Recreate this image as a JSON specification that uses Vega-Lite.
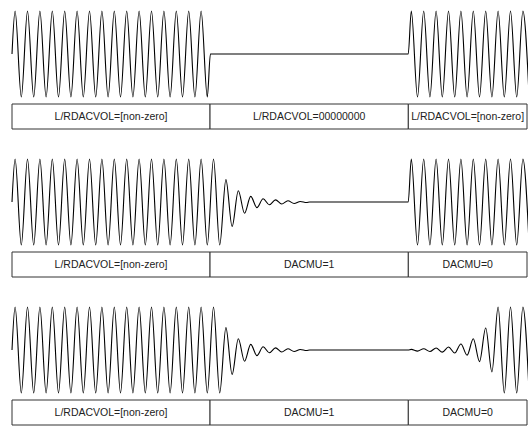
{
"$schema":"https://vega.github.io/schema/vega-lite/v6.json",
"padding":{"left":9,"top":8,"right":0,"bottom":0},
"autosize":{"type":"pad"},
"bounds":"flush",
"spacing":7,
"config":{"view":{"stroke":null},"background":"white"},
"datasets":{
"wave1":[{"t":0,"v":0},{"t":0.25,"v":1},{"t":0.75,"v":-1},{"t":1.25,"v":1},{"t":1.75,"v":-1},{"t":2.25,"v":1},{"t":2.75,"v":-1},{"t":3.25,"v":1},{"t":3.75,"v":-1},{"t":4.25,"v":1},{"t":4.75,"v":-1},{"t":5.25,"v":1},{"t":5.75,"v":-1},{"t":6.25,"v":1},{"t":6.75,"v":-1},{"t":7.25,"v":1},{"t":7.75,"v":-1},{"t":8.25,"v":1},{"t":8.75,"v":-1},{"t":9.25,"v":1},{"t":9.75,"v":-1},{"t":10.25,"v":1},{"t":10.75,"v":-1},{"t":11.25,"v":1},{"t":11.75,"v":-1},{"t":12.25,"v":1},{"t":12.75,"v":-1},{"t":13.25,"v":1},{"t":13.75,"v":-1},{"t":14.25,"v":1},{"t":14.75,"v":-1},{"t":15.25,"v":1},{"t":15.75,"v":-1},{"t":16,"v":0},{"t":31.95,"v":0},{"t":32.2,"v":1},{"t":32.7,"v":-1},{"t":33.2,"v":1},{"t":33.7,"v":-1},{"t":34.2,"v":1},{"t":34.7,"v":-1},{"t":35.2,"v":1},{"t":35.7,"v":-1},{"t":36.2,"v":1},{"t":36.7,"v":-1},{"t":37.2,"v":1},{"t":37.7,"v":-1},{"t":38.2,"v":1},{"t":38.7,"v":-1},{"t":39.2,"v":1},{"t":39.7,"v":-1},{"t":40.2,"v":1},{"t":40.7,"v":-1},{"t":41.2,"v":1},{"t":41.7,"v":-1}],
"wave2":[{"t":0,"v":0},{"t":0.25,"v":1},{"t":0.75,"v":-1},{"t":1.25,"v":1},{"t":1.75,"v":-1},{"t":2.25,"v":1},{"t":2.75,"v":-1},{"t":3.25,"v":1},{"t":3.75,"v":-1},{"t":4.25,"v":1},{"t":4.75,"v":-1},{"t":5.25,"v":1},{"t":5.75,"v":-1},{"t":6.25,"v":1},{"t":6.75,"v":-1},{"t":7.25,"v":1},{"t":7.75,"v":-1},{"t":8.25,"v":1},{"t":8.75,"v":-1},{"t":9.25,"v":1},{"t":9.75,"v":-1},{"t":10.25,"v":1},{"t":10.75,"v":-1},{"t":11.25,"v":1},{"t":11.75,"v":-1},{"t":12.25,"v":1},{"t":12.75,"v":-1},{"t":13.25,"v":1},{"t":13.75,"v":-1},{"t":14.25,"v":1},{"t":14.75,"v":-1},{"t":15.25,"v":1},{"t":15.75,"v":-1},{"t":16.25,"v":1},{"t":16.75,"v":-1},{"t":17.25,"v":0.52},{"t":17.75,"v":-0.57},{"t":18.25,"v":0.26},{"t":18.75,"v":-0.26},{"t":19.25,"v":0.13},{"t":19.75,"v":-0.13},{"t":20.25,"v":0.075},{"t":20.75,"v":-0.065},{"t":21.25,"v":0.05},{"t":21.75,"v":-0.048},{"t":22.25,"v":0.03},{"t":22.75,"v":-0.034},{"t":23.25,"v":0.013},{"t":23.75,"v":-0.012},{"t":24,"v":0},{"t":31.95,"v":0},{"t":32.2,"v":1},{"t":32.7,"v":-1},{"t":33.2,"v":1},{"t":33.7,"v":-1},{"t":34.2,"v":1},{"t":34.7,"v":-1},{"t":35.2,"v":1},{"t":35.7,"v":-1},{"t":36.2,"v":1},{"t":36.7,"v":-1},{"t":37.2,"v":1},{"t":37.7,"v":-1},{"t":38.2,"v":1},{"t":38.7,"v":-1},{"t":39.2,"v":1},{"t":39.7,"v":-1},{"t":40.2,"v":1},{"t":40.7,"v":-1},{"t":41.2,"v":1},{"t":41.7,"v":-1}],
"wave3":[{"t":0,"v":0},{"t":0.25,"v":1},{"t":0.75,"v":-1},{"t":1.25,"v":1},{"t":1.75,"v":-1},{"t":2.25,"v":1},{"t":2.75,"v":-1},{"t":3.25,"v":1},{"t":3.75,"v":-1},{"t":4.25,"v":1},{"t":4.75,"v":-1},{"t":5.25,"v":1},{"t":5.75,"v":-1},{"t":6.25,"v":1},{"t":6.75,"v":-1},{"t":7.25,"v":1},{"t":7.75,"v":-1},{"t":8.25,"v":1},{"t":8.75,"v":-1},{"t":9.25,"v":1},{"t":9.75,"v":-1},{"t":10.25,"v":1},{"t":10.75,"v":-1},{"t":11.25,"v":1},{"t":11.75,"v":-1},{"t":12.25,"v":1},{"t":12.75,"v":-1},{"t":13.25,"v":1},{"t":13.75,"v":-1},{"t":14.25,"v":1},{"t":14.75,"v":-1},{"t":15.25,"v":1},{"t":15.75,"v":-1},{"t":16.25,"v":1},{"t":16.75,"v":-1},{"t":17.25,"v":0.52},{"t":17.75,"v":-0.57},{"t":18.25,"v":0.26},{"t":18.75,"v":-0.26},{"t":19.25,"v":0.13},{"t":19.75,"v":-0.13},{"t":20.25,"v":0.075},{"t":20.75,"v":-0.065},{"t":21.25,"v":0.05},{"t":21.75,"v":-0.048},{"t":22.25,"v":0.03},{"t":22.75,"v":-0.034},{"t":23.25,"v":0.013},{"t":23.75,"v":-0.012},{"t":24,"v":0},{"t":31.95,"v":0},{"t":32.2,"v":0.015},{"t":32.7,"v":-0.025},{"t":33.2,"v":0.03},{"t":33.7,"v":-0.035},{"t":34.2,"v":0.045},{"t":34.7,"v":-0.05},{"t":35.2,"v":0.07},{"t":35.7,"v":-0.07},{"t":36.2,"v":0.14},{"t":36.7,"v":-0.12},{"t":37.2,"v":0.26},{"t":37.7,"v":-0.27},{"t":38.2,"v":0.51},{"t":38.7,"v":-0.51},{"t":39.2,"v":1},{"t":39.7,"v":-1},{"t":40.2,"v":1},{"t":40.7,"v":-1},{"t":41.2,"v":1},{"t":41.7,"v":-1}],
"cells":[
{"p":1,"x0":0,"x1":15.97,"m":7.985,"label":"L/RDACVOL=[non-zero]"},
{"p":1,"x0":15.97,"x1":31.96,"m":23.965,"label":"L/RDACVOL=00000000"},
{"p":1,"x0":31.96,"x1":41.53,"m":36.745,"label":"L/RDACVOL=[non-zero]"},
{"p":2,"x0":0,"x1":15.97,"m":7.985,"label":"L/RDACVOL=[non-zero]"},
{"p":2,"x0":15.97,"x1":31.96,"m":23.965,"label":"DACMU=1"},
{"p":2,"x0":31.96,"x1":41.53,"m":36.745,"label":"DACMU=0"},
{"p":3,"x0":0,"x1":15.97,"m":7.985,"label":"L/RDACVOL=[non-zero]"},
{"p":3,"x0":15.97,"x1":31.96,"m":23.965,"label":"DACMU=1"},
{"p":3,"x0":31.96,"x1":41.53,"m":36.745,"label":"DACMU=0"}
]},
"vconcat":[
{"width":515,"height":86,"data":{"name":"wave1"},"mark":{"type":"line","interpolate":"monotone","color":"#000","strokeWidth":1.1,"clip":false},
"encoding":{"x":{"field":"t","type":"quantitative","scale":{"domain":[0,41.53],"nice":false,"zero":false},"axis":null},"y":{"field":"v","type":"quantitative","scale":{"domain":[-1,1],"nice":false},"axis":null}}},
{"width":515,"height":25,"data":{"name":"cells"},"transform":[{"filter":"datum.p==1"}],"layer":[
{"mark":{"type":"rect","fill":"white","stroke":"#333","strokeWidth":1},"encoding":{"x":{"field":"x0","type":"quantitative","scale":{"domain":[0,41.53],"nice":false,"zero":false},"axis":null},"x2":{"field":"x1"}}},
{"mark":{"type":"text","font":"Liberation Sans","fontSize":10.5,"color":"#222","baseline":"middle"},"encoding":{"x":{"field":"m","type":"quantitative"},"text":{"field":"label"}}}]},
{"width":515,"height":109,"data":{"name":"wave2"},"mark":{"type":"line","interpolate":"monotone","color":"#000","strokeWidth":1.1,"clip":false},
"encoding":{"x":{"field":"t","type":"quantitative","scale":{"domain":[0,41.53],"nice":false,"zero":false},"axis":null},"y":{"field":"v","type":"quantitative","scale":{"domain":[-1,1.535],"nice":false},"axis":null}}},
{"width":515,"height":25,"data":{"name":"cells"},"transform":[{"filter":"datum.p==2"}],"layer":[
{"mark":{"type":"rect","fill":"white","stroke":"#333","strokeWidth":1},"encoding":{"x":{"field":"x0","type":"quantitative","scale":{"domain":[0,41.53],"nice":false,"zero":false},"axis":null},"x2":{"field":"x1"}}},
{"mark":{"type":"text","font":"Liberation Sans","fontSize":10.5,"color":"#222","baseline":"middle"},"encoding":{"x":{"field":"m","type":"quantitative"},"text":{"field":"label"}}}]},
{"width":515,"height":109,"data":{"name":"wave3"},"mark":{"type":"line","interpolate":"monotone","color":"#000","strokeWidth":1.1,"clip":false},
"encoding":{"x":{"field":"t","type":"quantitative","scale":{"domain":[0,41.53],"nice":false,"zero":false},"axis":null},"y":{"field":"v","type":"quantitative","scale":{"domain":[-1,1.535],"nice":false},"axis":null}}},
{"width":515,"height":25,"data":{"name":"cells"},"transform":[{"filter":"datum.p==3"}],"layer":[
{"mark":{"type":"rect","fill":"white","stroke":"#333","strokeWidth":1},"encoding":{"x":{"field":"x0","type":"quantitative","scale":{"domain":[0,41.53],"nice":false,"zero":false},"axis":null},"x2":{"field":"x1"}}},
{"mark":{"type":"text","font":"Liberation Sans","fontSize":10.5,"color":"#222","baseline":"middle"},"encoding":{"x":{"field":"m","type":"quantitative"},"text":{"field":"label"}}}]}
]
}
